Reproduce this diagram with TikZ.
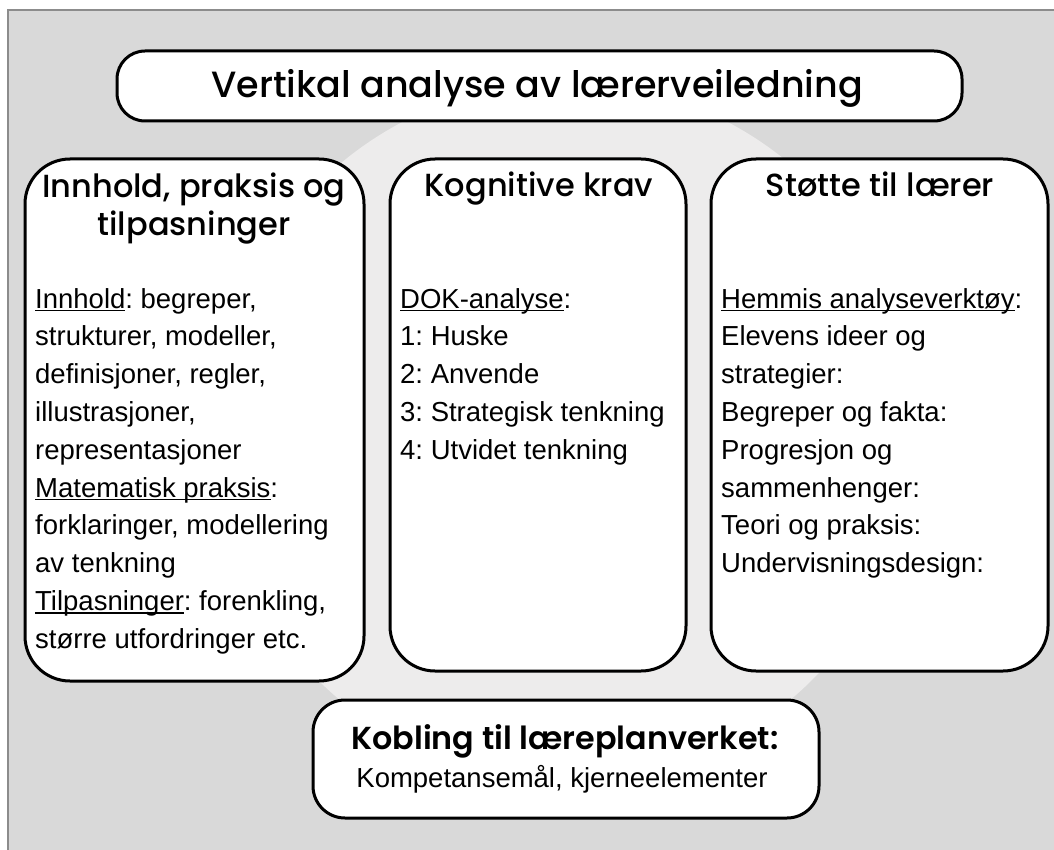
\documentclass[tikz,border=0pt]{standalone}
\usepackage{fontspec}
\setmainfont{Liberation Sans}
\newfontfamily\headfont{Poppins}[UprightFont=* Medium, BoldFont=* SemiBold]
\usetikzlibrary{calc}
\definecolor{bggray}{HTML}{D9D9D9}
\definecolor{ringgray}{HTML}{EDECEC}
\definecolor{framegray}{HTML}{8C8C8C}
\newcommand{\undl}[1]{\setbox0\hbox{#1}\rlap{\rule[-3pt]{\wd0}{1.3pt}}\box0}
\tikzset{
	panel/.style={draw=black, line width=3pt, fill=white, rounded corners=#1, inner sep=0pt},
	headtxt/.style={font=\headfont\fontsize{32}{38}\selectfont, align=center, inner sep=0pt},
	bodytxt/.style={font=\frenchspacing\fontsize{27.5}{37.8}\selectfont, align=left, anchor=north west, inner sep=0pt},
}

\begin{document}
\begin{tikzpicture}[x=1pt, y=-1pt]
		%%%%% START %%%%%
		\useasboundingbox (0, 0) rectangle (1054, 850);
		\clip (0, 0) rectangle (1054, 850);
		
		\draw[framegray, fill=bggray, line width=1.5pt] (8, 10) rectangle (1080, 880);
		\fill[ringgray] (565, 432) circle (350);
		
		% boxes
		\node[panel=28pt, minimum width=845pt, minimum height=70pt] (title) at (539.5, 86) {};
		\node[panel=45pt, minimum width=339pt, minimum height=522pt] (innhold) at (194.5, 420) {};
		\node[panel=45pt, minimum width=296pt, minimum height=512pt] (krav) at (538, 415) {};
		\node[panel=45pt, minimum width=337pt, minimum height=512pt] (stotte) at (879.5, 415) {};
		\node[panel=32pt, minimum width=506pt, minimum height=118pt] (kobling) at (566, 759) {};
		
		% headings
		\node[headtxt, font=\headfont\fontsize{36.5}{40}\selectfont, anchor=base] (titletxt) at (537, 98) {Vertikal analyse av lærerveiledning};
		\node[headtxt, anchor=north] (innholdhead) at (194, 170.4) {\strut Innhold, praksis og\\tilpasninger};
		\node[headtxt, anchor=base] (kravhead) at (539, 197) {Kognitive krav};
		\node[headtxt, anchor=base] (stottehead) at (880, 197) {Støtte til lærer};
		
		% body text
		\node[bodytxt] (innholdtxt) at (35, 281.5) {\strut\undl{Innhold}: begreper,\\
			strukturer, modeller,\\
			definisjoner, regler,\\
			illustrasjoner,\\
			representasjoner\\
			\undl{Matematisk praksis}:\\
			forklaringer, modellering\\
			av tenkning\\
			\undl{Tilpasninger}: forenkling,\\
			større utfordringer etc.};
		\node[bodytxt] (kravtxt) at (400, 281.5) {\strut\undl{DOK-analyse}:\\
			1: Huske\\
			2: Anvende\\
			3: Strategisk tenkning\\
			4: Utvidet tenkning};
		\node[bodytxt] (stottetxt) at (721, 281.5) {\strut\undl{Hemmis analyseverktøy}:\\
			Elevens ideer og\\
			strategier:\\
			Begreper og fakta:\\
			Progresjon og\\
			sammenhenger:\\
			Teori og praksis:\\
			Undervisningsdesign:};
		
		\node[headtxt, font=\headfont\bfseries\fontsize{31.8}{38}\selectfont, anchor=base] (koblinghead) at (565, 749) {Kobling til læreplanverket:};
		\node[font=\fontsize{27.5}{37.8}\selectfont, inner sep=0pt, anchor=base] (koblingtxt) at (562, 787) {Kompetansemål, kjerneelementer};
		
		%%%%% END %%%%%
	\end{tikzpicture}
\end{document}
